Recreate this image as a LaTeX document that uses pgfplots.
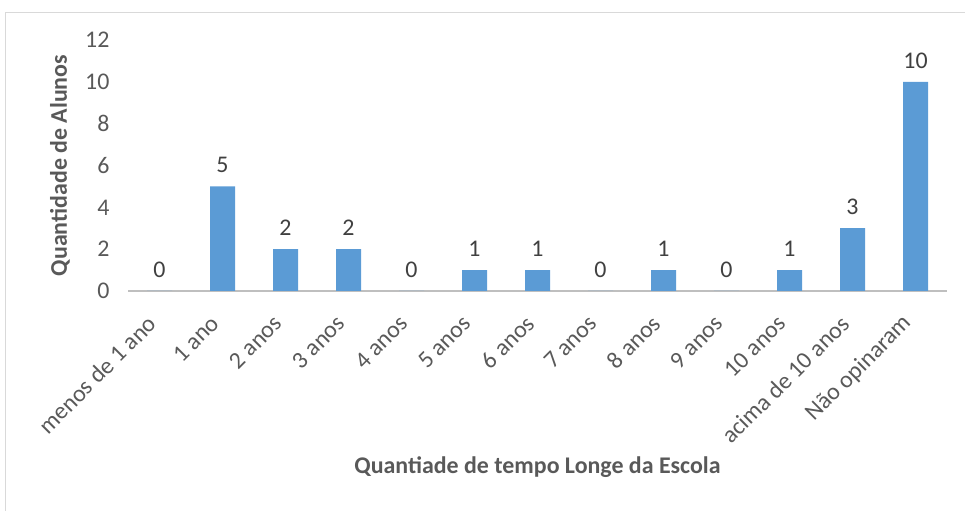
\documentclass[border=0pt]{standalone}
\usepackage{pgfplots}
\pgfplotsset{compat=1.18}
\usepackage{fontspec}
\setmainfont{Carlito}
\definecolor{barblue}{HTML}{5B9BD5}
\definecolor{txtgray}{HTML}{595959}
\definecolor{lblgray}{HTML}{404040}
\definecolor{axgray}{HTML}{BFBFBF}
\definecolor{framegray}{HTML}{D9D9D9}

\begin{document}
\begin{tikzpicture}[x=1bp,y=1bp]
\useasboundingbox (0,0) rectangle (965,511);
% chart area border (only top and left edges fall inside the page)
\begin{scope}
\clip (0,0) rectangle (965,511);
\draw[framegray, line width=1.2bp] (5.5,-20) -- (5.5,498.5) -- (990,498.5);
\end{scope}
\begin{axis}[
  at={(128bp,220bp)}, anchor=south west,
  scale only axis, width=819bp, height=251bp,
  ybar, bar width=25bp,
  xmin=-0.5, xmax=12.5, ymin=0, ymax=12,
  ytick={0,2,...,12},
  xtick=data,
  xticklabels={menos de 1 ano,1 ano,2 anos,3 anos,4 anos,5 anos,6 anos,7 anos,8 anos,9 anos,10 anos,acima de 10 anos,Não opinaram},
  axis x line*=bottom, axis y line*=left,
  y axis line style={draw=none},
  x axis line style={axgray, line width=2bp, -},
  tick style={draw=none},
  /pgf/number format/assume math mode=true,
  ticklabel style={font=\fontsize{24}{28}\selectfont, text=txtgray},
  yticklabel style={xshift=-15bp},
  xticklabel style={xshift=-5bp, yshift=-22bp, rotate=45, anchor=east},
  nodes near coords,
  nodes near coords style={font=\fontsize{24}{28}\selectfont, text=lblgray, yshift=10bp},
  xlabel={Quantiade de tempo Longe da Escola},
  ylabel={Quantidade de Alunos},
  xlabel style={at={(axis description cs:0.5,-0.70)}, anchor=center, font=\bfseries\fontsize{24}{28}\selectfont, text=txtgray},
  ylabel style={at={(axis description cs:-0.083,0.5)}, anchor=center, rotate=0, font=\bfseries\fontsize{24}{28}\selectfont, text=txtgray},
  clip=false,
]
\addplot[fill=barblue, draw=none] coordinates {
  (0,0) (1,5) (2,2) (3,2) (4,0) (5,1) (6,1) (7,0) (8,1) (9,0) (10,1) (11,3) (12,10)
};
\end{axis}
\end{tikzpicture}
\end{document}
